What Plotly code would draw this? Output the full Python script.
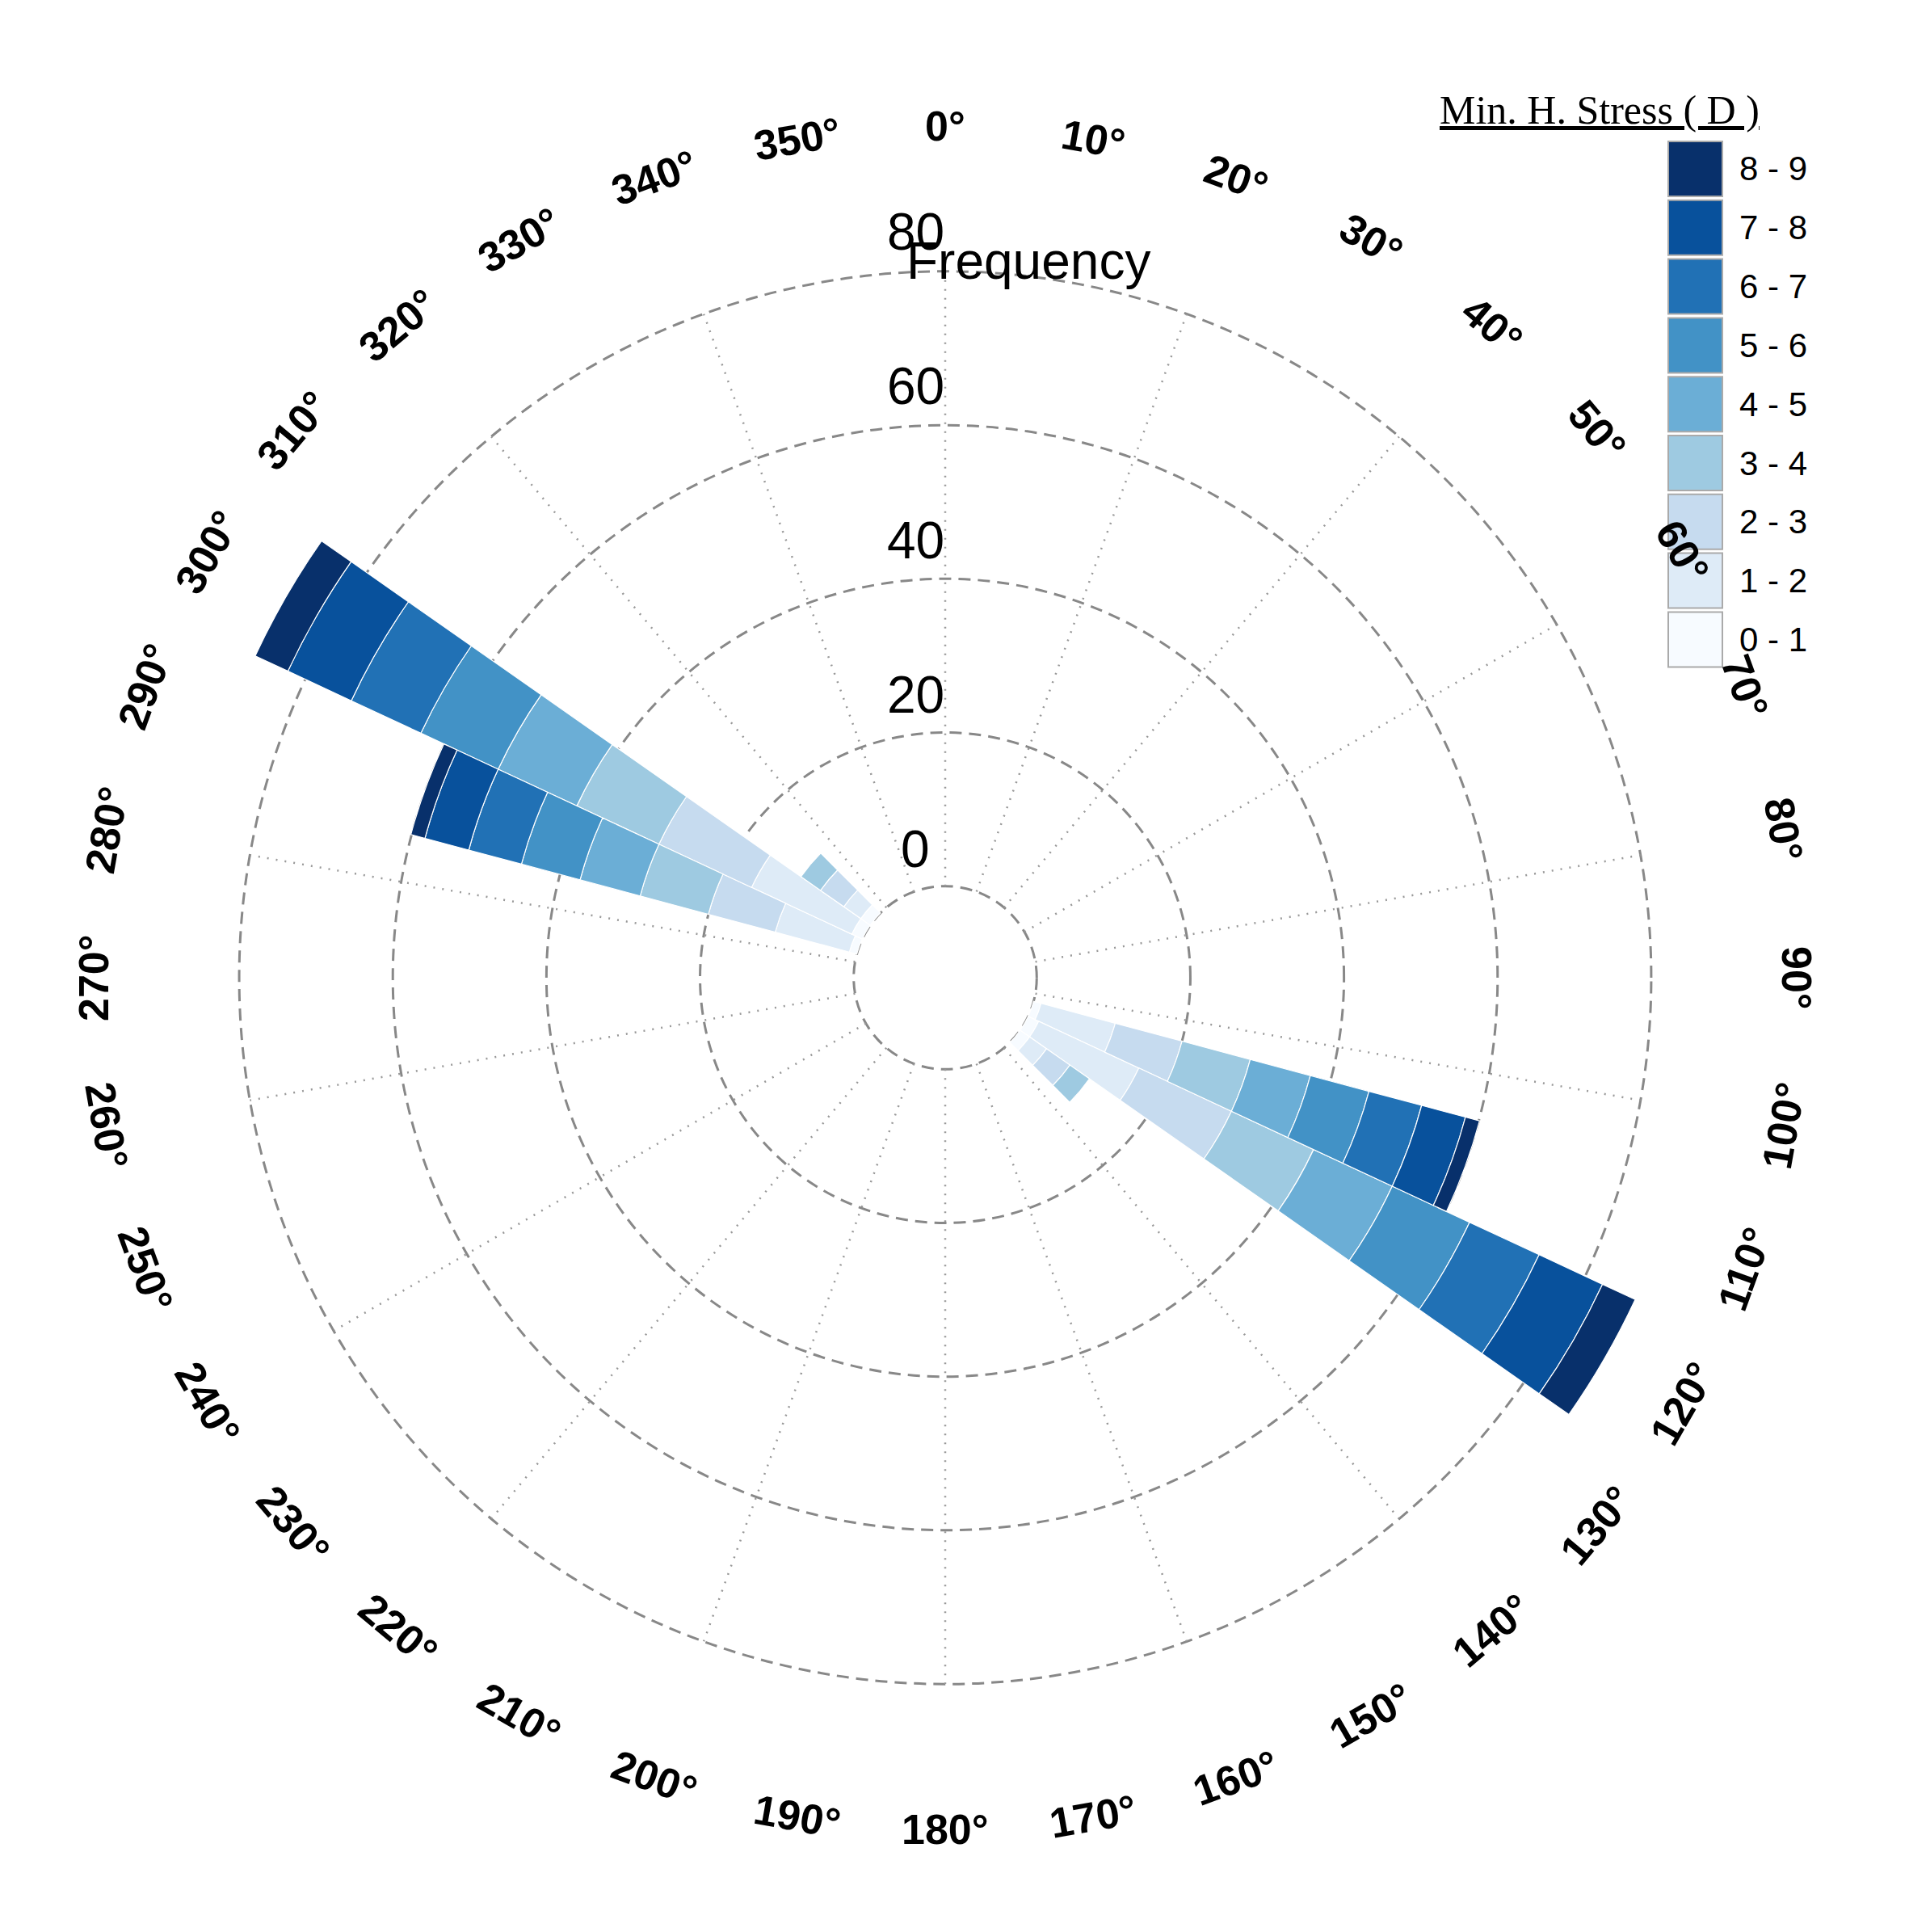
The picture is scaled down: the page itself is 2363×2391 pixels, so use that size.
import numpy as np
import plotly.graph_objects as go

# directions of the bars (degrees, clockwise from north)
directions = [110, 120, 130, 290, 300, 310]
classes = ["0 - 1", "1 - 2", "2 - 3", "3 - 4", "4 - 5", "5 - 6", "6 - 7", "7 - 8", "8 - 9"]
colors = ["#f7fbff", "#deebf7", "#c6dbef", "#9ecae1", "#6baed6",
          "#4292c6", "#2171b5", "#08519c", "#08306b"]

# frequency per stress class (rows) for each direction (columns)
c01 = [1.0, 1.5, 1.5, 1.0, 1.5, 1.5]
c12 = [10.0, 14.4, 2.7, 10.0, 14.4, 2.7]
c23 = [9.0, 13.3, 3.7, 9.0, 13.3, 3.7]
c34 = [9.2, 11.8, 3.1, 9.2, 11.8, 3.1]
c45 = [8.1, 11.3, 0, 8.1, 11.3, 0]
c56 = [7.9, 11.1, 0, 7.9, 11.1, 0]
c67 = [7.1, 10.0, 0, 7.1, 10.0, 0]
c78 = [5.9, 9.1, 0, 5.9, 9.1, 0]
c89 = [1.9, 4.7, 0, 1.9, 4.7, 0]
freqs = [c01, c12, c23, c34, c45, c56, c67, c78, c89]

radial_ticks = [0, 20, 40, 60, 80]
angle_labels = list(range(0, 360, 10))
spoke_angles = list(range(0, 360, 20))

W, H = 2363, 2391
cx, cy = 1162, 1202          # centre in pixels (from top)
hole_px, px_per = 109.5, 9.55
rmin, rmax = -0.4, 90
R = hole_px + rmax * px_per

fig = go.Figure()

# dotted spokes in the lower polar subplot, from the hole to the 80 circle
for a in spoke_angles:
    fig.add_trace(go.Scatterpolar(r=[0, 80], theta=[a, a], mode="lines", subplot="polar",
                                  line=dict(color="#999999", width=2.5, dash="2px,9px"),
                                  showlegend=False, hoverinfo="skip"))

# bars in the upper polar subplot
for i in range(len(classes)):
    fig.add_trace(go.Barpolar(r=freqs[i], theta=directions, width=[10] * len(directions),
                              name=classes[i], marker_color=colors[i], subplot="polar2",
                              marker_line=dict(color="white", width=1.2),
                              showlegend=False))

domain = dict(x=[(cx - R) / W, (cx + R) / W], y=[(H - cy - R) / H, (H - cy + R) / H])
polar_common = dict(domain=domain, hole=hole_px / R)
fig.update_layout(
    width=W, height=H, margin=dict(l=0, r=0, t=0, b=0),
    paper_bgcolor="white", plot_bgcolor="white", showlegend=False,
    polar=dict(
        **polar_common, bgcolor="white",
        radialaxis=dict(range=[rmin, rmax], tickvals=radial_ticks, showticklabels=False,
                        ticks="", showline=False, gridcolor="#888888", griddash="15px,9px",
                        gridwidth=2.5),
        angularaxis=dict(direction="clockwise", rotation=90, showgrid=False,
                         showline=False, showticklabels=False, ticks=""),
    ),
    polar2=dict(
        **polar_common, barmode="stack", bgcolor="rgba(0,0,0,0)",
        radialaxis=dict(range=[rmin, rmax], showgrid=False, showticklabels=False,
                        ticks="", showline=False),
        angularaxis=dict(direction="clockwise", rotation=90, showgrid=False,
                         showline=False, showticklabels=False, ticks=""),
    ),
)

anns = []
for a in angle_labels:
    t = np.radians(a)
    rot = a if a <= 90 else (a - 180 if a < 270 else a - 360)
    anns.append(dict(x=(cx + 1054 * np.sin(t)) / W, y=(H - cy + 1054 * np.cos(t)) / H,
                     xref="paper", yref="paper", text=f"{a}°", showarrow=False,
                     textangle=rot, xanchor="center", yanchor="middle",
                     font=dict(family="Liberation Sans", size=52, color="black", weight="bold")))
for v in radial_ticks:
    ypx = cy - (hole_px + v * px_per) - 50
    anns.append(dict(x=1125 / W, y=(H - ypx) / H, xref="paper", yref="paper",
                     text=str(v), showarrow=False, xanchor="center", yanchor="middle",
                     font=dict(family="Liberation Sans", size=64, color="black")))
anns.append(dict(x=1265 / W, y=(H - 315) / H, xref="paper", yref="paper", text="Frequency",
                 showarrow=False, xanchor="center", yanchor="middle",
                 font=dict(family="Liberation Sans", size=64, color="black")))
anns.append(dict(x=1972 / W, y=(H - 128) / H, xref="paper", yref="paper",
                 text="<u>Min. H. Stress ( D )</u>", showarrow=False,
                 xanchor="center", yanchor="middle",
                 font=dict(family="Liberation Serif", size=50, color="black")))

# legend drawn as swatches, top item = highest class
shapes = []
sx0, sx1, top, pitch, sh = 2057, 2124, 167, 72.8, 68
for k, (lab, col) in enumerate(zip(classes[::-1], colors[::-1])):
    y0 = top + k * pitch
    shapes.append(dict(type="rect", xref="paper", yref="paper",
                       x0=sx0 / W, x1=sx1 / W, y0=(H - y0) / H, y1=(H - y0 - sh) / H,
                       fillcolor=col, line=dict(color="#aaaaaa", width=2)))
    anns.append(dict(x=2143 / W, y=(H - y0 - sh / 2) / H, xref="paper", yref="paper",
                     text=lab, showarrow=False, xanchor="left", yanchor="middle",
                     font=dict(family="Liberation Sans", size=42, color="black")))
fig.update_layout(annotations=anns, shapes=shapes)

fig.write_html("out.html")
